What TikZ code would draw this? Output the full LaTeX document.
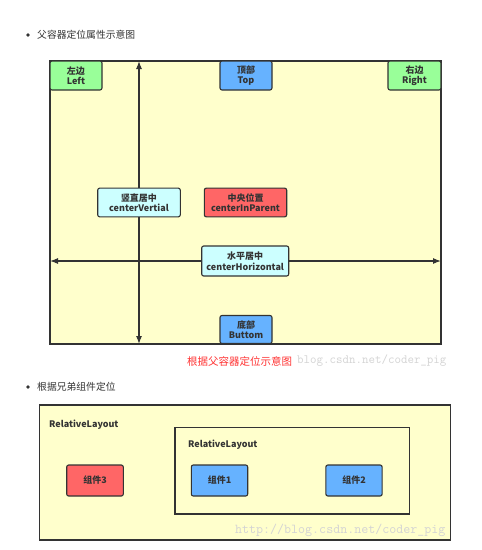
\documentclass[tikz,border=0pt]{standalone}
\usepackage{fontspec}
\setmainfont{Noto Sans CJK SC}
\newfontfamily\markfont{Latin Modern Mono}
\usepackage{xcolor}
\usetikzlibrary{arrows.meta}
\definecolor{paneyellow}{HTML}{FFFFCC}
\definecolor{edgegray}{HTML}{333333}
\definecolor{boxgreen}{HTML}{99FF99}
\definecolor{boxblue}{HTML}{66B2FF}
\definecolor{boxred}{HTML}{FF6666}
\definecolor{boxcyan}{HTML}{CCFFFF}
\definecolor{captionred}{HTML}{FF3333}
\definecolor{markgray}{HTML}{D4D4D4}
\definecolor{textgray}{HTML}{333333}

\tikzset{
  pane/.style={fill=paneyellow, draw=edgegray, line width=1.2pt},
  posbox/.style={draw=edgegray, line width=1.1pt, rounded corners=2pt, align=center,
    inner sep=0pt, text=textgray, font=\fontsize{9}{10.5}\selectfont\bfseries},
  axis/.style={draw=edgegray, line width=1.1pt, {Latex[length=8pt,width=6pt]}-{Latex[length=8pt,width=6pt]}},
  bullettext/.style={anchor=west, inner sep=0pt, text=textgray, font=\fontsize{9.8}{11}\selectfont},
  watermark/.style={anchor=west, inner sep=0pt, text=markgray, font=\markfont\fontsize{12.6}{13}\selectfont}
}

\begin{document}
\begin{tikzpicture}[x=1pt, y=-1pt]
    \useasboundingbox[fill=white] (0,0) rectangle (482,550);

    % first section: parent positioning
    \fill[textgray] (28,35) circle (1.8);
    \node[bullettext] (head1) at (37,35) {父容器定位属性示意图};

    \draw[pane] (50,61) rectangle (441,344);
    \coordinate (vtop) at (139,61);
    \coordinate (vbot) at (139,344);
    \coordinate (hleft) at (50,261);
    \coordinate (hright) at (441,261);
    \draw[axis] (vtop) -- (vbot);
    \draw[axis] (hleft) -- (hright);

    \node[posbox, fill=boxgreen, minimum width=52, minimum height=29] (left) at (76,75.5) {左边\\Left};
    \node[posbox, fill=boxblue, minimum width=52, minimum height=29] (top) at (246,75.5) {顶部\\Top};
    \node[posbox, fill=boxgreen, minimum width=53, minimum height=29] (right) at (414.5,75.5) {右边\\Right};
    \node[posbox, fill=boxcyan, minimum width=82.6, minimum height=28.7] (cvert) at (139,202.5) {竖直居中\\centerVertial};
    \node[posbox, fill=boxred, minimum width=82.4, minimum height=28.7] (cparent) at (245.5,202.5) {中央位置\\centerInParent};
    \node[posbox, fill=boxcyan, minimum width=87, minimum height=30] (chorz) at (245.2,261) {水平居中\\centerHorizontal};
    \node[posbox, fill=boxblue, minimum width=52, minimum height=28] (bottom) at (246,329.5) {底部\\Buttom};

    \node[watermark] (mark1) at (297,361) {blog.csdn.net/coder\_pig};
    \node[anchor=west, inner sep=0pt, text=captionred, font=\fontsize{10.5}{12}\selectfont] (caption1) at (187,361) {根据父容器定位示意图};

    % second section: sibling positioning
    \fill[textgray] (28,387) circle (1.8);
    \node[bullettext] (head2) at (37,387) {根据兄弟组件定位};

    \draw[pane] (39.3,405) rectangle (450.7,540);
    \node[anchor=west, inner sep=0pt, text=textgray, font=\fontsize{9}{10}\selectfont\bfseries] (outer) at (49,425) {RelativeLayout};
    \draw[pane] (175,427.3) rectangle (409.7,514);
    \node[anchor=west, inner sep=0pt, text=textgray, font=\fontsize{9}{10}\selectfont\bfseries] (inner) at (188,445) {RelativeLayout};

    \node[posbox, fill=boxred, minimum width=56.6, minimum height=31] (widget3) at (95,480.5) {组件3};
    \node[posbox, fill=boxblue, minimum width=56.4, minimum height=31] (widget1) at (219.5,480.5) {组件1};
    \node[posbox, fill=boxblue, minimum width=56.3, minimum height=31] (widget2) at (354,480.5) {组件2};

    \node[watermark, font=\markfont\fontsize{13.6}{14}\selectfont] (mark2) at (235,530) {http://blog.csdn.net/coder\_pig};
\end{tikzpicture}
\end{document}
